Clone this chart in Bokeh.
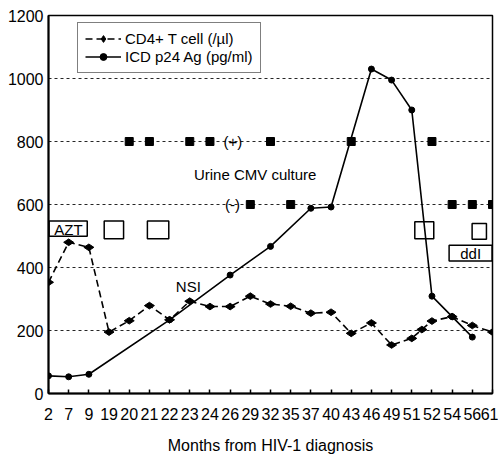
import math
from bokeh.plotting import figure
from bokeh.models import Range1d, FixedTicker, Legend, LegendItem, Label
from bokeh.embed import file_html
from bokeh.resources import INLINE

# ---------------- data ----------------
months = ["2", "7", "9", "19", "20", "21", "22", "23", "24", "26", "29", "32",
          "35", "37", "40", "43", "46", "49", "51", "52", "54", "56", "61"]

# CD4+ T cell (/ul) - positions are category indices (one extra sample between 51 and 52)
cd4_pos = [0, 1, 2, 3, 4, 5, 6, 7, 8, 9, 10, 11, 12, 13, 14, 15, 16, 17, 18, 18.5, 19, 20, 21, 22]
cd4_vals = [353, 480, 464, 195, 231, 279, 234, 293, 276, 276, 309, 284,
            277, 255, 258, 191, 224, 154, 175, 203, 230, 244, 216, 195]

# ICD p24 Ag (pg/ml)
p24_pos = [0, 1, 2, 6, 9, 11, 13, 14, 16, 17, 18, 19, 20, 21]
p24_vals = [56, 53, 61, 234, 376, 467, 588, 592, 1030, 995, 900, 309, 244, 179]

# Urine CMV culture: positive (+) and negative (-) samples
cmv_pos_idx = [4, 5, 7, 8, 11, 15, 19]
cmv_neg_idx = [10, 12, 20, 21, 22]
cmv_pos_level = 800
cmv_neg_level = 600

y_ticks = [0, 200, 400, 600, 800, 1000, 1200]
grid_levels = [200, 400, 600, 800, 1000]

FONT = "Liberation Sans"

# ---------------- figure ----------------
p = figure(width=498, height=458, output_backend="svg", toolbar_location=None,
           x_range=Range1d(0, len(months) - 1), y_range=Range1d(0, 1200),
           min_border_left=48, min_border_right=6, min_border_top=15, min_border_bottom=65)
p.background_fill_color = "white"
p.border_fill_color = "white"
p.outline_line_color = "black"
p.outline_line_width = 1.5

p.xgrid.visible = False
p.ygrid.ticker = FixedTicker(ticks=grid_levels)
p.ygrid.grid_line_color = "black"
p.ygrid.grid_line_dash = "3 3"
p.ygrid.grid_line_width = 1
p.ygrid.grid_line_alpha = 0.85

# x axis
p.xaxis.ticker = FixedTicker(ticks=list(range(len(months))))
p.xaxis.major_label_overrides = {i: m for i, m in enumerate(months)}
p.xaxis.major_tick_in = 4
p.xaxis.major_tick_out = 0
p.xaxis.minor_tick_line_color = None
p.xaxis.major_tick_line_color = "black"
p.xaxis.major_tick_line_width = 1.5
p.xaxis.axis_line_color = "black"
p.xaxis.axis_line_width = 2
p.xaxis.major_label_standoff = 14
p.xaxis.major_label_text_font = FONT
p.xaxis.major_label_text_font_size = "16px"
p.xaxis.major_label_text_color = "black"
p.xaxis.axis_label = "Months from HIV-1 diagnosis"
p.xaxis.axis_label_text_font = FONT
p.xaxis.axis_label_text_font_size = "16px"
p.xaxis.axis_label_text_font_style = "normal"
p.xaxis.axis_label_text_color = "black"
p.xaxis.axis_label_standoff = 14

# y axis
p.yaxis.ticker = FixedTicker(ticks=y_ticks)
p.yaxis.major_tick_in = 0
p.yaxis.major_tick_out = 0
p.yaxis.minor_tick_line_color = None
p.yaxis.axis_line_color = "black"
p.yaxis.axis_line_width = 2
p.yaxis.major_label_standoff = 5
p.yaxis.major_label_text_font = FONT
p.yaxis.major_label_text_font_size = "16px"
p.yaxis.major_label_text_color = "black"

# ---------------- annotation boxes ----------------
box_style = dict(fill_alpha=0, line_color="black", line_width=1.5)
p.quad(left=[0.03], right=[1.92], bottom=[499], top=[548], **box_style)      # AZT
p.quad(left=[2.76], right=[3.72], bottom=[491], top=[548], **box_style)
p.quad(left=[4.90], right=[5.96], bottom=[491], top=[548], **box_style)
p.quad(left=[18.15], right=[19.09], bottom=[491], top=[545], **box_style)
p.quad(left=[20.99], right=[21.70], bottom=[490], top=[540], **box_style)
p.quad(left=[19.85], right=[21.98], bottom=[421], top=[471], **box_style)   # ddI

# ---------------- CMV squares ----------------
p.scatter(cmv_pos_idx, [cmv_pos_level] * len(cmv_pos_idx), marker="square", size=8, color="black")
p.scatter(cmv_neg_idx, [cmv_neg_level] * len(cmv_neg_idx), marker="square", size=8, color="black")

# ---------------- series ----------------
r_cd4_line = p.line(cd4_pos, cd4_vals, line_color="black", line_width=1.6, line_dash="7 4")
r_cd4_pts = p.scatter(cd4_pos, cd4_vals, marker="diamond", size=10, angle=math.pi / 2, color="black")
r_p24_line = p.line(p24_pos, p24_vals, line_color="black", line_width=1.6)
r_p24_pts = p.scatter(p24_pos, p24_vals, marker="circle", size=6, color="black")

# ---------------- texts ----------------
def add_text(x, y, t, size="15px"):
    p.add_layout(Label(x=x, y=y, text=t, text_font=FONT, text_font_size=size,
                       text_align="center", text_baseline="middle", text_color="black"))

add_text(0.99, 522, "AZT")
add_text(20.92, 446, "ddI")
add_text(6.93, 341, "NSI")
add_text(10.24, 695, "Urine CMV culture")
add_text(9.14, cmv_pos_level, "(+)")
add_text(9.12, cmv_neg_level, "(-)")

# ---------------- legend ----------------
legend = Legend(items=[
    LegendItem(label="CD4+ T cell (/µl)", renderers=[r_cd4_line, r_cd4_pts]),
    LegendItem(label="ICD p24 Ag (pg/ml)", renderers=[r_p24_line, r_p24_pts]),
], location=(29, 320))
legend.border_line_color = "black"
legend.border_line_width = 1.5
legend.background_fill_color = "white"
legend.background_fill_alpha = 1
legend.label_text_font = FONT
legend.label_text_font_size = "15px"
legend.label_text_color = "black"
legend.glyph_width = 36
legend.glyph_height = 17
legend.label_height = 17
legend.label_standoff = 4
legend.padding = 7
legend.spacing = 1
legend.margin = 0
p.add_layout(legend)

open("out.html", "w").write(file_html(p, INLINE))
